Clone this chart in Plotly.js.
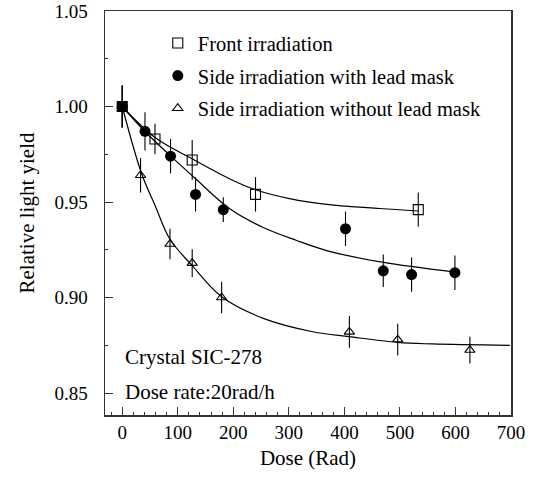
<!DOCTYPE html>
<html>
<head>
<meta charset="utf-8">
<script src="https://cdn.plot.ly/plotly-3.0.1.min.js"></script>
<style>html,body{margin:0;padding:0;background:#fff;}#chart{width:555px;height:479px;}</style>
</head>
<body>
<div id="chart"></div>
<script>
// Measured data points
var frontDose = [0, 59, 126, 240, 533];
var frontYield = [1.000, 0.983, 0.972, 0.954, 0.946];
var frontErr = [0.011, 0.008, 0.0105, 0.009, 0.009];

var maskDose = [0, 41, 87, 132, 182, 402, 470, 521, 599];
var maskYield = [1.000, 0.987, 0.974, 0.954, 0.946, 0.936, 0.914, 0.912, 0.913];
var maskErr = [0.011, 0.010, 0.009, 0.009, 0.0065, 0.009, 0.0085, 0.009, 0.009];

var noMaskDose = [0, 33, 86, 126, 179, 409, 496, 626];
var noMaskYield = [1.000, 0.964, 0.928, 0.918, 0.900, 0.882, 0.878, 0.8725];
var noMaskErr = [0.011, 0.009, 0.008, 0.0073, 0.0082, 0.0083, 0.0083, 0.007];

// Fitted curves
var frontFitX = [0, 59, 126, 193, 240, 301, 373, 463, 533];
var frontFitY = [1.000, 0.9838, 0.9726, 0.9622, 0.9564, 0.9518, 0.9486, 0.9466, 0.9453];

var maskFitX = [0, 41, 86, 132, 193, 253, 313, 373, 468, 597];
var maskFitY = [1.000, 0.9869, 0.9744, 0.9622, 0.9466, 0.9368, 0.9300, 0.9242, 0.9185, 0.9134];

var noMaskFitX = [0, 35, 59, 86, 126, 179, 254, 343, 409, 496, 558, 698];
var noMaskFitY = [1.000, 0.9648, 0.9483, 0.9305, 0.9167, 0.9004, 0.8891, 0.8821, 0.8795, 0.8765, 0.8757, 0.8750];

var legendNames = ["Front irradiation", "Side irradiation with lead mask", "Side irradiation without lead mask"];
var xTicks = [0, 100, 200, 300, 400, 500, 600, 700];
var yTicks = [0.85, 0.90, 0.95, 1.00, 1.05];
var yTickText = ["0.85", "0.90", "0.95", "1.00", "1.05"];

var FONT = "Liberation Serif, Times New Roman, serif";

function fit(x, y) {
  return {x: x, y: y, mode: "lines", type: "scatter", showlegend: false, hoverinfo: "skip",
    line: {color: "#000", width: 1.2, shape: "spline", smoothing: 1}};
}
function errObj(a) {
  return {type: "data", array: a, visible: true, color: "#000", thickness: 1.1, width: 0};
}

var traces = [
  fit(frontFitX, frontFitY),
  fit(maskFitX, maskFitY),
  fit(noMaskFitX, noMaskFitY),
  {x: frontDose, y: frontYield, name: legendNames[0], mode: "markers", type: "scatter",
   legendgroup: "a", error_y: errObj(frontErr),
   marker: {symbol: "square-open", size: 10, color: "#000", line: {width: 1.1}}},
  {x: maskDose, y: maskYield, name: legendNames[1], mode: "markers", type: "scatter",
   legendgroup: "b", error_y: errObj(maskErr),
   marker: {symbol: "circle", size: 11, color: "#000"}},
  {x: noMaskDose, y: noMaskYield, name: legendNames[2], mode: "markers", type: "scatter",
   legendgroup: "c", error_y: errObj(noMaskErr),
   marker: {symbol: "triangle-up-open", size: 9, color: "#000", line: {width: 1.1}}},
  {x: [frontDose[0]], y: [frontYield[0]], mode: "markers", type: "scatter", showlegend: false,
   hoverinfo: "skip", marker: {symbol: "square", size: 10, color: "#000"}}
];

var layout = {
  width: 555, height: 479,
  margin: {l: 105, r: 44, t: 11, b: 64},
  paper_bgcolor: "#fff", plot_bgcolor: "#fff",
  font: {family: FONT, size: 19, color: "#000"},
  showlegend: true,
  legend: {x: 0.13, y: 0.97, xanchor: "left", yanchor: "top", bgcolor: "rgba(0,0,0,0)",
    font: {family: FONT, size: 20.5, color: "#000"}, tracegroupgap: 3, itemsizing: "trace"},
  xaxis: {
    range: [-31, 700], tickvals: xTicks, ticktext: xTicks.map(String),
    ticks: "inside", ticklen: 8, tickwidth: 1, tickcolor: "#333",
    minor: {dtick: 20, tick0: 0, ticks: "inside", ticklen: 3, tickcolor: "#333"},
    showline: true, linecolor: "#333", linewidth: 1.5, mirror: true,
    showgrid: false, zeroline: false,
    tickfont: {family: FONT, size: 19},
    title: {text: "Dose (Rad)", font: {family: FONT, size: 21}, standoff: 8}
  },
  yaxis: {
    range: [0.8385, 1.05], tickvals: yTicks, ticktext: yTickText,
    ticks: "inside", ticklen: 8, tickwidth: 1, tickcolor: "#333",
    minor: {dtick: 0.025, tick0: 0.85, ticks: "inside", ticklen: 3, tickcolor: "#333"},
    showline: true, linecolor: "#333", linewidth: 1.5, mirror: true,
    showgrid: false, zeroline: false,
    tickfont: {family: FONT, size: 19},
    ticklabelstandoff: 12,
    title: {text: "Relative light yield", font: {family: FONT, size: 21}, standoff: 14}
  },
  annotations: [
    {text: "Crystal SIC-278", xref: "paper", yref: "paper", x: 0.045, y: 0.143,
     xanchor: "left", yanchor: "middle", showarrow: false, font: {family: FONT, size: 21}},
    {text: "Dose rate:20rad/h", xref: "paper", yref: "paper", x: 0.045, y: 0.057,
     xanchor: "left", yanchor: "middle", showarrow: false, font: {family: FONT, size: 21}}
  ]
};

Plotly.newPlot("chart", traces, layout, {displayModeBar: false, staticPlot: true});
</script>
</body>
</html>
